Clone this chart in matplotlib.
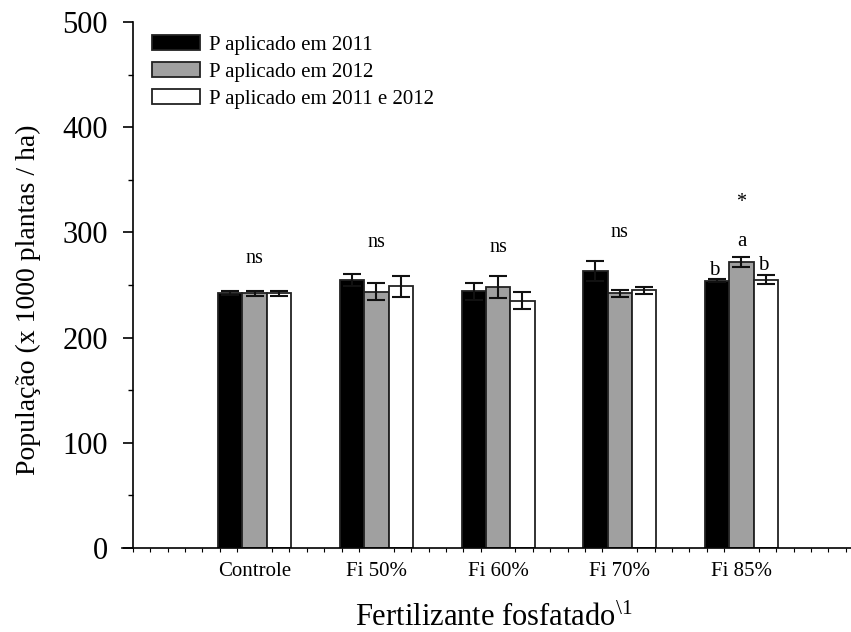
import numpy as np
import matplotlib.pyplot as plt
from matplotlib.ticker import MultipleLocator

categories = ["Controle", "Fi 50%", "Fi 60%", "Fi 70%", "Fi 85%"]
series_names = ["P aplicado em 2011", "P aplicado em 2012", "P aplicado em 2011 e 2012"]
p2011 = [242.5, 255.0, 244.0, 263.5, 254.0]
p2012 = [242.0, 243.5, 248.0, 242.0, 271.5]
p2011_2012 = [242.0, 249.0, 235.0, 245.0, 255.0]
err2011 = [2.0, 5.7, 8.0, 9.5, 1.3]
err2012 = [2.5, 8.0, 10.5, 3.0, 4.8]
err2011_2012 = [2.5, 10.0, 8.2, 3.5, 4.4]
group_labels = ["ns", "ns", "ns", "ns", "*"]
group_label_y = [275.5, 290.0, 286.0, 299.5, 328.0]
letters_85 = ["b", "a", "b"]
letters_85_y = [264.0, 291.0, 269.0]

plt.rcParams.update({
    "font.family": "Liberation Serif",
    "mathtext.fontset": "custom",
    "mathtext.rm": "Liberation Serif",
    "mathtext.it": "Liberation Serif",
    "axes.linewidth": 1.2,
})

fig = plt.figure(figsize=(8.51, 6.32), dpi=100)
ax = fig.add_axes([122 / 851, 1 - 548 / 632, 1 - 122 / 851, (548 - 22) / 632])

x = np.arange(1, len(categories) + 1)
w = 0.2
colors = ["black", "#a0a0a0", "white"]
values = [p2011, p2012, p2011_2012]
errors = [err2011, err2012, err2011_2012]
for i, (vals, errs, col, name) in enumerate(zip(values, errors, colors, series_names)):
    pos = x + (i - 1) * w
    ax.bar(pos, vals, width=w, color=col, edgecolor="#222222", linewidth=1.3,
           label=name, zorder=2)
    ax.errorbar(pos, vals, yerr=errs, fmt="none", ecolor="#111111",
                elinewidth=1.5, capsize=6.5, capthick=1.5, zorder=3)

for xi, lab, yy in zip(x, group_labels, group_label_y):
    ax.text(xi, yy, lab, ha="center", va="center", fontsize=14.5)

for i, (lab, yy) in enumerate(zip(letters_85, letters_85_y)):
    dx = (i - 1) * w
    if i != 1:
        dx -= 0.02
    ax.text(x[-1] + dx, yy, lab, ha="center", va="center", fontsize=15)

ax.set_xlim(-0.09, 5.9)
ax.set_ylim(0, 500)
ax.spines["left"].set_position(("data", 0))
ax.spines["top"].set_visible(False)
ax.spines["right"].set_visible(False)

ax.set_xticks(x)
ax.set_xticklabels(categories, fontsize=15)
ax.xaxis.set_minor_locator(MultipleLocator(1 / 7))
ax.tick_params(axis="x", which="major", length=0, pad=10)
ax.tick_params(axis="x", which="minor", length=3, width=0.8, direction="out")

ax.yaxis.set_major_locator(MultipleLocator(100))
ax.yaxis.set_minor_locator(MultipleLocator(50))
ax.tick_params(axis="y", which="major", length=7, width=1.2, labelsize=22, pad=11)
ax.tick_params(axis="y", which="minor", length=3.5, width=1.0)

fig.text(28 / 851, 1 - 300 / 632, "População (x 1000 plantas / ha)",
         rotation=90, ha="center", va="center", fontsize=20)
fig.text(494 / 851, 1 - 626 / 632, r"Fertilizante fosfatado$^{\backslash 1}$",
         ha="center", va="baseline", fontsize=22)

leg = ax.legend(loc="upper left", bbox_to_anchor=(0.041, 0.975), frameon=False,
                fontsize=15, handlelength=2.3, handleheight=0.72,
                labelspacing=0.35, handletextpad=0.45, borderpad=0,
                borderaxespad=0)

fig.savefig("out.png", dpi=100)
